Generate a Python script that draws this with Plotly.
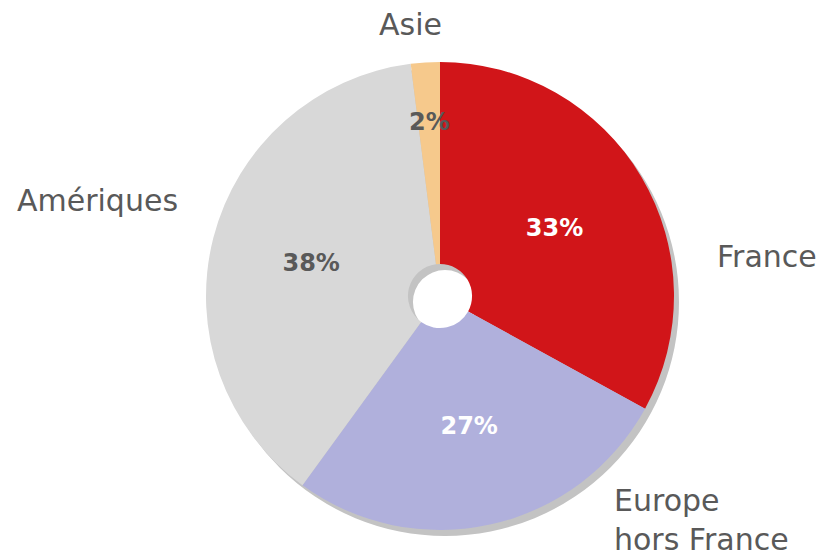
import math
import plotly.graph_objects as go

labels = ["France", "Europe hors France", "Amériques", "Asie"]
values = [33, 27, 38, 2]
pct_text = ["33%", "27%", "38%", "2%"]
colors = ["#d11519", "#b0b0dc", "#d8d8d8", "#f6c98c"]
pct_colors = ["#ffffff", "#ffffff", "#595959", "#595959"]

OFF = 8  # page body margin
W, H = 827 - OFF, 558 - OFF
cx, cy, R = 440 - OFF, 296 - OFF, 234
hole = 0.137

def dom(cx_, cy_):
    return dict(x=[(cx_ - R) / W, (cx_ + R) / W],
                y=[1 - (cy_ + R) / H, 1 - (cy_ - R) / H])

def pos(x, y):
    return (x - OFF) / W, 1 - (y - OFF) / H

fig = go.Figure()
# drop shadow
fig.add_trace(go.Pie(values=[1], labels=["shadow"], hole=hole, sort=False,
                     marker=dict(colors=["#c3c3c3"], line=dict(width=0)),
                     textinfo="none", hoverinfo="skip", showlegend=False,
                     domain=dom(cx + 5, cy + 6)))
# main pie
inside = [t if v >= 5 else "" for t, v in zip(pct_text, values)]
fig.add_trace(go.Pie(values=values, labels=labels, hole=hole, sort=False,
                     direction="clockwise", rotation=0,
                     marker=dict(colors=colors, line=dict(width=0)),
                     text=inside, textinfo="text", textposition="inside",
                     insidetextorientation="horizontal",
                     textfont=dict(family="DejaVu Sans", size=24, weight="bold",
                                   color=pct_colors),
                     showlegend=False, domain=dom(cx, cy)))

annotations = []
# small-slice percentage placed from data
total = sum(values)
start = sum(values[:3]) / total * 360
mid = math.radians(start + values[3] / total * 360 / 2)
rr = 0.745 * R
px, py = cx + rr * math.sin(mid), cy - rr * math.cos(mid)
annotations.append(dict(x=px / W, y=1 - py / H, xref="paper", yref="paper",
                        xanchor="center", yanchor="middle",
                        text="<b>2%</b>", showarrow=False,
                        font=dict(family="DejaVu Sans", size=24, color="#595959")))

name_font = dict(family="DejaVu Sans", size=30, color="#595959")
x, y = pos(410, 25)
annotations.append(dict(x=x, y=y, text="Asie", xanchor="center", yanchor="middle"))
x, y = pos(97, 200)
annotations.append(dict(x=x, y=y, text="Amériques", xanchor="center", yanchor="middle"))
x, y = pos(767, 256)
annotations.append(dict(x=x, y=y, text="France", xanchor="center", yanchor="middle"))
x, y = pos(612, 520)
annotations.append(dict(x=x, y=y, text="Europe<br>hors France", xanchor="left",
                        yanchor="middle", align="left"))
for a in annotations[1:]:
    a.update(xref="paper", yref="paper", showarrow=False, font=name_font)

fig.update_layout(width=W, height=H, margin=dict(l=0, r=0, t=0, b=0),
                  paper_bgcolor="white", plot_bgcolor="white",
                  annotations=annotations)
fig.write_html("out.html")
